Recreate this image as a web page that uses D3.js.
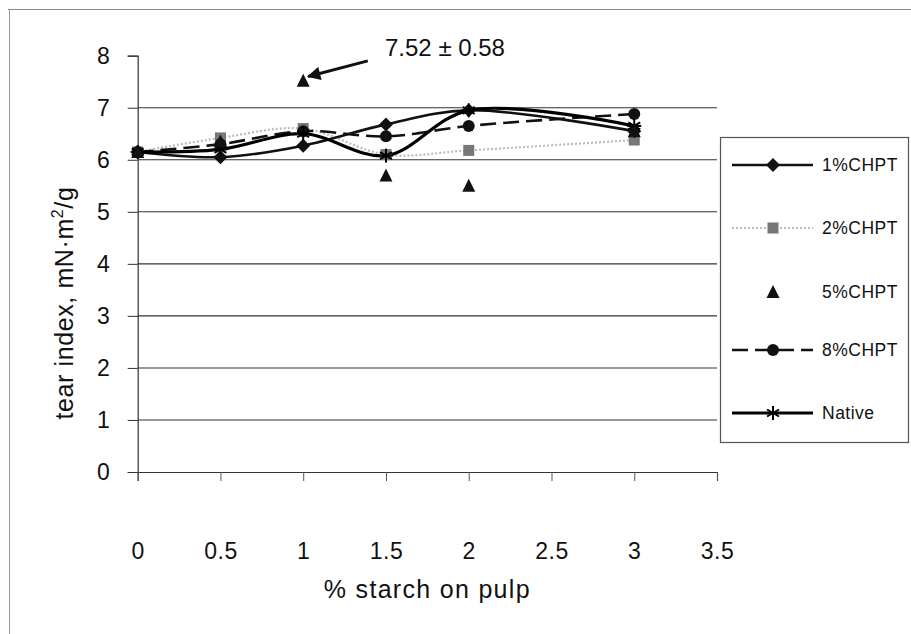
<!DOCTYPE html>
<html><head><meta charset="utf-8">
<script src="https://cdn.jsdelivr.net/npm/d3@7"></script>
<style>body{margin:0;background:#fff}svg{display:block}text{font-family:"Liberation Sans",Arial,sans-serif;fill:#111}</style>
</head><body><svg id="c" width="911" height="634"></svg>
<script>
const xValues = [0, 0.5, 1, 1.5, 2, 3];
const chpt1 = [6.15, 6.05, 6.27, 6.68, 6.95, 6.55];
const chpt2 = [6.15, 6.42, 6.6, 6.1, 6.18, 6.38];
const chpt5 = [6.15, 6.35, 7.52, 5.7, 5.5, 6.55];
const chpt8 = [6.15, 6.3, 6.55, 6.45, 6.65, 6.88];
const native = [6.15, 6.2, 6.5, 6.08, 6.95, 6.65];
const seriesNames = ["1%CHPT", "2%CHPT", "5%CHPT", "8%CHPT", "Native"];
const xTicks = [0, 0.5, 1, 1.5, 2, 2.5, 3, 3.5];
const yTicks = [0, 1, 2, 3, 4, 5, 6, 7, 8];
const annotation = "7.52 ± 0.58";

const svg = d3.select("#c");
const x = d3.scaleLinear().domain([0, 3.5]).range([137.7, 717]);
const y = d3.scaleLinear().domain([0, 8]).range([472, 55.7]);
const font = '"Liberation Sans",Arial,sans-serif';

// outer frame
svg.append("line").attr("x1", 8).attr("x2", 911).attr("y1", 9.5).attr("y2", 9.5).attr("stroke", "#888").attr("stroke-width", 1.2);
svg.append("line").attr("x1", 9.5).attr("x2", 9.5).attr("y1", 9).attr("y2", 634).attr("stroke", "#999").attr("stroke-width", 1);

// gridlines
svg.append("g").selectAll("line").data(yTicks.filter(d => d > 0 && d < 8)).join("line")
  .attr("x1", x(0)).attr("x2", x(3.5)).attr("y1", d => y(d)).attr("y2", d => y(d))
  .attr("stroke", "#333").attr("stroke-width", 1.1);

// axes
const yAxis = d3.axisLeft(y).tickValues(yTicks).tickSize(10).tickPadding(18).tickFormat(d3.format("d"));
const gy = svg.append("g").attr("transform", `translate(${x(0)},0)`).call(yAxis);
gy.select(".domain").attr("stroke", "#333").attr("stroke-width", 1.2);
gy.selectAll(".tick line").attr("stroke", "#333");
gy.selectAll("text").style("font-size", "23px").style("font-family", font).attr("fill", "#111");

const xAxis = d3.axisBottom(x).tickValues(xTicks).tickSize(9).tickPadding(62).tickFormat(d => d);
const gx = svg.append("g").attr("transform", `translate(0,${y(0)})`).call(xAxis);
gx.select(".domain").attr("stroke", "#333").attr("stroke-width", 1.2);
gx.selectAll(".tick line").attr("stroke", "#555");
gx.selectAll("text").style("font-size", "23px").style("font-family", font).style("letter-spacing", "0.5px").attr("fill", "#111");

// axis titles
svg.append("text").attr("x", x(1.75)).attr("y", 598).attr("text-anchor", "middle")
  .style("font-size", "25px").style("letter-spacing", "1.3px").text("% starch on pulp");
const yt = svg.append("text").attr("transform", "translate(73,303) rotate(-90)").attr("text-anchor", "middle").style("font-size", "25px").style("letter-spacing", "0.6px");
yt.append("tspan").text("tear index, mN·m");
yt.append("tspan").attr("dy", -10).style("font-size", "16px").text("2");
yt.append("tspan").attr("dy", 10).text("/g");

// series
const data = [chpt1, chpt2, chpt5, chpt8, native].map(v => v.map((d, i) => [xValues[i], d]));
const line = d3.line().x(d => x(d[0])).y(d => y(d[1])).curve(d3.curveCatmullRom.alpha(0.5));
const styles = [
  {stroke: "#111", w: 2.6, dash: null, draw: true},
  {stroke: "#bbb", w: 2.2, dash: "2,2", draw: true},
  {stroke: "none", w: 0, dash: null, draw: false},
  {stroke: "#111", w: 2.6, dash: "16,7", draw: true},
  {stroke: "#000", w: 3.2, dash: null, draw: true}
];
const order = [1, 3, 0, 4, 2];
order.forEach(i => {
  if (styles[i].draw) svg.append("path").attr("d", line(data[i])).attr("fill", "none")
    .attr("stroke", styles[i].stroke).attr("stroke-width", styles[i].w).attr("stroke-dasharray", styles[i].dash);
});

function marker(g, type, cx, cy) {
  if (type === 0) g.append("path").attr("d", `M${cx},${cy-7}L${cx+7},${cy}L${cx},${cy+7}L${cx-7},${cy}Z`).attr("fill", "#111");
  else if (type === 1) g.append("rect").attr("x", cx-5.5).attr("y", cy-5.5).attr("width", 11).attr("height", 11).attr("fill", "#777");
  else if (type === 2) g.append("path").attr("d", `M${cx},${cy-7}L${cx+6.5},${cy+6}L${cx-6.5},${cy+6}Z`).attr("fill", "#111");
  else if (type === 3) g.append("circle").attr("cx", cx).attr("cy", cy).attr("r", 6).attr("fill", "#111");
  else {
    const r = 7;
    [[0,-r,0,r],[-r*0.85,-r*0.5,r*0.85,r*0.5],[-r*0.85,r*0.5,r*0.85,-r*0.5],[-r,0,r,0]].forEach(s =>
      g.append("line").attr("x1", cx+s[0]).attr("y1", cy+s[1]).attr("x2", cx+s[2]).attr("y2", cy+s[3]).attr("stroke", "#000").attr("stroke-width", 2));
  }
}
const mg = svg.append("g");
order.forEach(i => data[i].forEach(d => marker(mg, i, x(d[0]), y(d[1]))));

// annotation
svg.append("defs").append("marker").attr("id", "ah").attr("viewBox", "0 0 10 10").attr("refX", 9).attr("refY", 5)
  .attr("markerWidth", 6).attr("markerHeight", 4.5).attr("orient", "auto")
  .append("path").attr("d", "M0,0L10,5L0,10Z").attr("fill", "#111");
svg.append("line").attr("x1", x(1.39)).attr("y1", y(7.9)).attr("x2", x(1.03)).attr("y2", y(7.6))
  .attr("stroke", "#111").attr("stroke-width", 3).attr("marker-end", "url(#ah)");
svg.append("text").attr("x", 385).attr("y", 56).style("font-size", "24px").text(annotation);

// legend
const lg = svg.append("g");
lg.append("rect").attr("x", 720.5).attr("y", 137.5).attr("width", 188).attr("height", 305).attr("fill", "#fff").attr("stroke", "#555").attr("stroke-width", 1.2);
const ly = [165, 228, 292, 350, 413];
seriesNames.forEach((n, i) => {
  if (styles[i].draw) lg.append("line").attr("x1", 732).attr("x2", 813).attr("y1", ly[i]).attr("y2", ly[i])
    .attr("stroke", styles[i].stroke).attr("stroke-width", styles[i].w).attr("stroke-dasharray", styles[i].dash);
  marker(lg, i, 773, ly[i]);
  lg.append("text").attr("x", 822).attr("y", ly[i] + 6).style("font-size", "17.5px").style("letter-spacing", "0.5px").text(n);
});
</script></body></html>
